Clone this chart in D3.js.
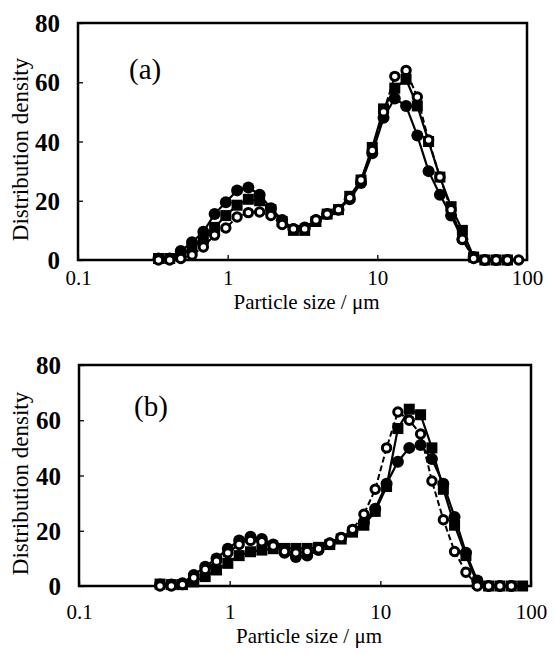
<!DOCTYPE html>
<html>
<head>
<meta charset="utf-8">
<script src="https://cdn.jsdelivr.net/npm/d3@7"></script>
<style>
  body { margin: 0; background: #fff; }
  svg { display: block; }
  svg text { font-family: "Liberation Serif", "Times New Roman", "DejaVu Serif", serif !important; fill: #000; }
</style>
</head>
<body>
<script>
// particle size bins (um)
var sizes = [0.345, 0.41, 0.486, 0.578, 0.688, 0.818, 0.972, 1.156, 1.375, 1.635, 1.945,
             2.312, 2.75, 3.27, 3.89, 4.62, 5.5, 6.54, 7.78, 9.25, 11.0, 13.08, 15.56,
             18.5, 22.0, 26.2, 31.1, 37.0, 44.0, 52.3, 62.2, 74.0, 88.0];

// panel (a)
var aOpen   = [0, 0, 0.5, 1.7, 4.4, 8.4, 10.8, 14.5, 16, 16.2, 15, 12, 10.5, 10.5, 13.5, 15.5, 17,
               21, 27, 37, 50, 62, 64, 55, 40.5, 28, 17, 7, 0.5, 0, 0, 0, 0];
var aFilled = [0.5, 0.5, 3, 6, 9.5, 15.5, 19.5, 23.5, 24.5, 22, 17.5, 13.5, 10.5, 11, 13.5, 15.5, 17,
               20.5, 26, 36, 48, 54.5, 52, 42, 30, 22, 15, 7, 1, 0, 0, 0, null];
var aSquare = [0.5, 0.5, 1.5, 4, 7, 11, 15, 18.5, 20.5, 20, 17, 13, 10, 10, 13, 15.5, 17,
               21.5, 27, 38, 51, 58, 61, 52, 40, 28, 18, 10, 1, 0, 0, 0, null];

// panel (b)
var bOpen   = [0, 0, 0.5, 3, 6, 9, 12, 15, 16.5, 16, 14.5, 12.5, 12, 12.5, 13.5, 15.5, 17.5,
               20.5, 26, 35, 50, 63, 60, 55, 38, 24, 12.5, 5, 0, 0, 0, 0, null];
var bFilled = [0.5, 0.5, 1, 4, 7, 10, 13.5, 16.5, 17.8, 17, 15, 12, 10.5, 11, 13, 15.5, 17.5,
               20, 23, 28, 37, 45, 50, 51, 46, 37, 25, 12, 2, 0, 0, 0, null];
var bSquare = [0.7, 0.5, 0.5, 1.5, 3.4, 5.8, 8.2, 11, 12.4, 13, 13.5, 13.6, 13.6, 13.6, 14, 15, 17,
               19.5, 22, 27, 36, 57, 64, 62, 50, 35, 22, 11, 1, 0, 0, 0, 0];

var xTicks = [0.1, 1, 10, 100];
var yTicks = [0, 20, 40, 60, 80];
var panelNames = ["(a)", "(b)"];
var xTitle = "Particle size / \u03bcm";
var yTitle = "Distribution density";

var serif = "'Liberation Serif', 'Times New Roman', 'DejaVu Serif', serif";

var svg = d3.select("body").append("svg")
    .attr("width", 554)
    .attr("height", 654);

function drawPanel(name, open, filled, square, box) {
  var x = d3.scaleLog().domain([0.1, 100]).range([box.left, box.right]);
  var y = d3.scaleLinear().domain([0, 80]).range([box.bottom, box.top]);
  var g = svg.append("g").attr("font-family", serif);

  // frame
  g.append("rect")
    .attr("x", box.left).attr("y", box.top)
    .attr("width", box.right - box.left).attr("height", box.bottom - box.top)
    .attr("fill", "none").attr("stroke", "#000").attr("stroke-width", 2.5);

  // x axis
  var xa = g.append("g")
    .attr("transform", "translate(0," + box.bottom + ")")
    .call(d3.axisBottom(x).tickValues(xTicks).tickSize(-5).tickFormat(d3.format("")));
  xa.attr("font-family", serif);
  xa.select(".domain").remove();
  xa.selectAll("line").attr("stroke-width", 1.3);
  xa.selectAll("text")
    .attr("y", box.xLabelY).attr("dy", 0)
    .style("font-family", serif)
    .style("font-size", "21px");

  // y axis
  var ya = g.append("g")
    .attr("transform", "translate(" + box.left + ",0)")
    .call(d3.axisLeft(y).tickValues(yTicks).tickSize(-5));
  ya.attr("font-family", serif);
  ya.select(".domain").remove();
  ya.selectAll("line").attr("stroke-width", 1.3);
  ya.selectAll("text")
    .attr("x", -18).attr("dy", "0.34em")
    .style("font-family", serif)
    .style("font-size", "25px").style("font-weight", "bold");

  // axis titles
  g.append("text")
    .attr("x", (box.left + box.right) / 2 + 4).attr("y", box.xTitleY)
    .attr("text-anchor", "middle")
    .style("font-family", serif)
    .style("font-size", "21px")
    .text(xTitle);

  g.append("text")
    .attr("transform", "translate(28," + ((box.top + box.bottom) / 2 + 8) + ") rotate(-90)")
    .attr("text-anchor", "middle")
    .style("font-family", serif)
    .style("font-size", "23px")
    .text(yTitle);

  // panel letter
  g.append("text")
    .attr("x", box.nameX).attr("y", box.nameY)
    .style("font-family", serif)
    .style("font-size", "29px")
    .text(name);

  var line = d3.line()
    .defined(function(d) { return d.v != null; })
    .x(function(d) { return x(d.s); })
    .y(function(d) { return y(d.v); });

  function pts(vals) {
    return vals.map(function(v, i) { return { s: sizes[i], v: v }; });
  }

  var sq = pts(square), fc = pts(filled), oc = pts(open);

  g.append("path").datum(sq).attr("d", line)
    .attr("fill", "none").attr("stroke", "#000").attr("stroke-width", 2.2);
  g.append("path").datum(fc).attr("d", line)
    .attr("fill", "none").attr("stroke", "#000").attr("stroke-width", 2.2);
  g.append("path").datum(oc).attr("d", line)
    .attr("fill", "none").attr("stroke", "#000").attr("stroke-width", 2)
    .attr("stroke-dasharray", "6,3");

  g.selectAll(".sq").data(sq.filter(function(d) { return d.v != null; }))
    .enter().append("rect")
    .attr("x", function(d) { return x(d.s) - 5.5; })
    .attr("y", function(d) { return y(d.v) - 5.5; })
    .attr("width", 11).attr("height", 11)
    .attr("fill", "#000");

  g.selectAll(".fc").data(fc.filter(function(d) { return d.v != null; }))
    .enter().append("circle")
    .attr("cx", function(d) { return x(d.s); })
    .attr("cy", function(d) { return y(d.v); })
    .attr("r", 6)
    .attr("fill", "#000");

  g.selectAll(".oc").data(oc.filter(function(d) { return d.v != null; }))
    .enter().append("circle")
    .attr("cx", function(d) { return x(d.s); })
    .attr("cy", function(d) { return y(d.v); })
    .attr("r", 4.2)
    .attr("fill", "#fff").attr("stroke", "#000").attr("stroke-width", 3);
}

drawPanel(panelNames[0], aOpen, aFilled, aSquare,
  { left: 78, right: 527, top: 23, bottom: 260, xLabelY: 25, xTitleY: 309, nameX: 129, nameY: 79 });
drawPanel(panelNames[1], bOpen, bFilled, bSquare,
  { left: 79, right: 531, top: 365, bottom: 586, xLabelY: 33, xTitleY: 643, nameX: 134, nameY: 416 });
</script>
</body>
</html>
